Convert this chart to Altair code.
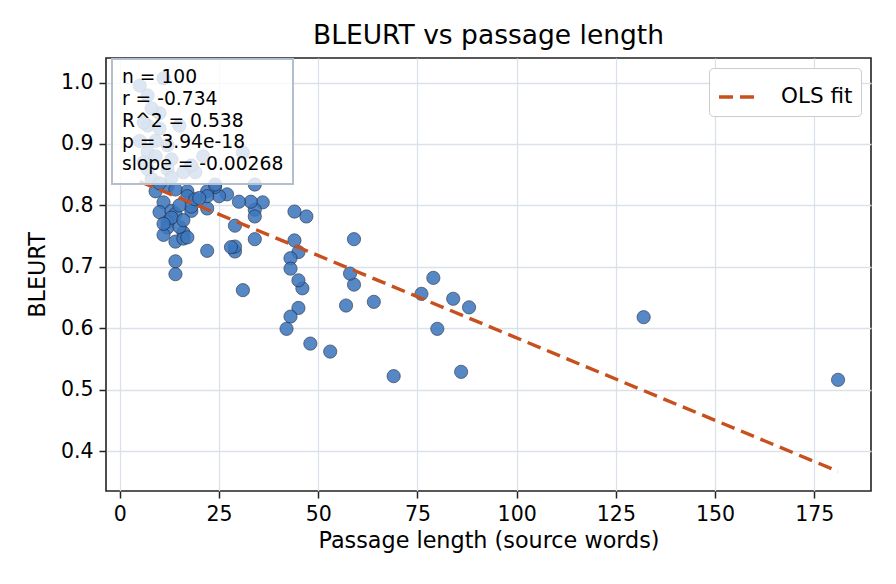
import altair as alt
import pandas as pd

# ---- data ----
passage_len = [181, 132, 86, 88, 84, 80, 79, 76, 69, 64,
               59, 59, 58, 57, 53, 48, 47, 46, 45, 45,
               45, 44, 44, 43, 43, 43, 42, 36, 34, 34,
               34, 34, 33, 31, 30, 29, 29, 29, 28, 27,
               25, 24, 22, 22, 22, 22, 9, 12, 11, 10,
               13, 14, 12, 12, 11, 14, 16, 16, 17, 18,
               18, 17, 17, 19, 14, 14, 15, 13, 11, 16,
               20, 15, 8, 10, 5, 11, 7, 7, 10, 15,
               5, 7, 9, 13, 21, 7, 12, 16, 19, 31,
               24, 6, 9, 13, 18, 10, 6, 12, 8, 14]
bleurt = [0.516, 0.618, 0.529, 0.634, 0.648, 0.599, 0.682, 0.656, 0.522, 0.643,
          0.671, 0.745, 0.689, 0.637, 0.562, 0.575, 0.782, 0.665, 0.678, 0.633,
          0.724, 0.743, 0.790, 0.714, 0.697, 0.619, 0.599, 0.805, 0.834, 0.793,
          0.782, 0.745, 0.806, 0.662, 0.806, 0.725, 0.733, 0.767, 0.732, 0.818,
          0.815, 0.830, 0.795, 0.726, 0.823, 0.815, 0.823, 0.831, 0.805, 0.789,
          0.791, 0.786, 0.773, 0.764, 0.752, 0.741, 0.756, 0.746, 0.748, 0.791,
          0.798, 0.823, 0.815, 0.810, 0.709, 0.688, 0.765, 0.780, 0.770, 0.776,
          0.812, 0.800, 0.843, 0.836, 0.995, 1.007, 0.979, 0.930, 0.925, 0.930,
          0.905, 0.887, 0.880, 0.875, 0.880, 0.859, 0.859, 0.854, 0.854, 0.886,
          0.834, 0.870, 0.905, 0.845, 0.865, 0.950, 0.935, 0.898, 0.958, 0.826]

fit_x = [5, 181]
fit_y = [0.839, 0.367]
fit_label = ["OLS fit", "OLS fit"]

stats_lines = ["n = 100", "r = -0.734", "R^2 = 0.538", "p = 3.94e-18", "slope = -0.00268"]

x_ticks = [0, 25, 50, 75, 100, 125, 150, 175]
y_ticks = [0.4, 0.5, 0.6, 0.7, 0.8, 0.9, 1.0]

FONT = "DejaVu Sans"

pts = pd.DataFrame({"len": passage_len, "bleurt": bleurt})
fit = pd.DataFrame({"len": fit_x, "bleurt": fit_y, "label": fit_label})
one = pd.DataFrame({"k": [0]})

xscale = alt.Scale(domain=[-3.5, 189.3], nice=False, zero=False)
yscale = alt.Scale(domain=[0.335, 1.040], nice=False, zero=False)

xaxis = alt.Axis(values=x_ticks, title="Passage length (source words)", format="d")
yaxis = alt.Axis(values=y_ticks, title="BLEURT", format=".1f")

points = alt.Chart(pts).mark_circle(
    size=175, color="#3d77bd", opacity=0.87, stroke="#1b2740", strokeWidth=0.7
).encode(
    x=alt.X("len:Q", scale=xscale, axis=xaxis),
    y=alt.Y("bleurt:Q", scale=yscale, axis=yaxis),
)

line = alt.Chart(fit).mark_line(strokeDash=[14, 7], strokeWidth=3.4).encode(
    x=alt.X("len:Q", scale=xscale),
    y=alt.Y("bleurt:Q", scale=yscale),
    color=alt.Color(
        "label:N",
        scale=alt.Scale(range=["#c8501e"]),
        legend=alt.Legend(
            title=None, orient="top-right", offset=10,
            symbolType="stroke", symbolStrokeWidth=3.4, symbolDash=[14, 7],
            symbolSize=1444, labelFontSize=21.5, labelFont=FONT, labelColor="black",
            labelOffset=22, padding=8, strokeColor="#cccccc", fillColor="white",
            cornerRadius=4,
        ),
    ),
)

box = alt.Chart(one).mark_rect(
    fill="white", fillOpacity=0.8, stroke="#b3bfcf", strokeWidth=2
).encode(
    x=alt.value(6), x2=alt.value(187), y=alt.value(1), y2=alt.value(126)
)

stats = alt.Chart(one).mark_text(
    align="left", baseline="alphabetic", fontSize=18.7, font=FONT,
    lineHeight=21.7, lineBreak="\n", color="black"
).encode(
    x=alt.value(16), y=alt.value(25.3), text=alt.value("\n".join(stats_lines))
)

chart = alt.layer(points, line, box, stats).properties(
    width=765, height=433,
    title=alt.TitleParams("BLEURT vs passage length", fontSize=26.5, font=FONT,
                          fontWeight="normal", color="black", offset=9),
    autosize=alt.AutoSizeParams(type="none"),
    padding={"left": 98, "top": 50, "right": 17, "bottom": 85},
).configure_view(
    stroke="#222222", strokeWidth=1.6
).configure_axis(
    labelFont=FONT, titleFont=FONT, labelFontSize=20.5, titleFontSize=22.3,
    labelColor="black", titleColor="black", titleFontWeight="normal",
    gridColor="#dbe1ea", gridWidth=1.3, tickColor="#222222", tickWidth=1.5,
    tickSize=7, domain=False, labelPadding=6,
).configure_axisX(titlePadding=5).configure_axisY(titlePadding=11)

chart.save("out.html", embed_options={"renderer": "svg", "actions": False})
